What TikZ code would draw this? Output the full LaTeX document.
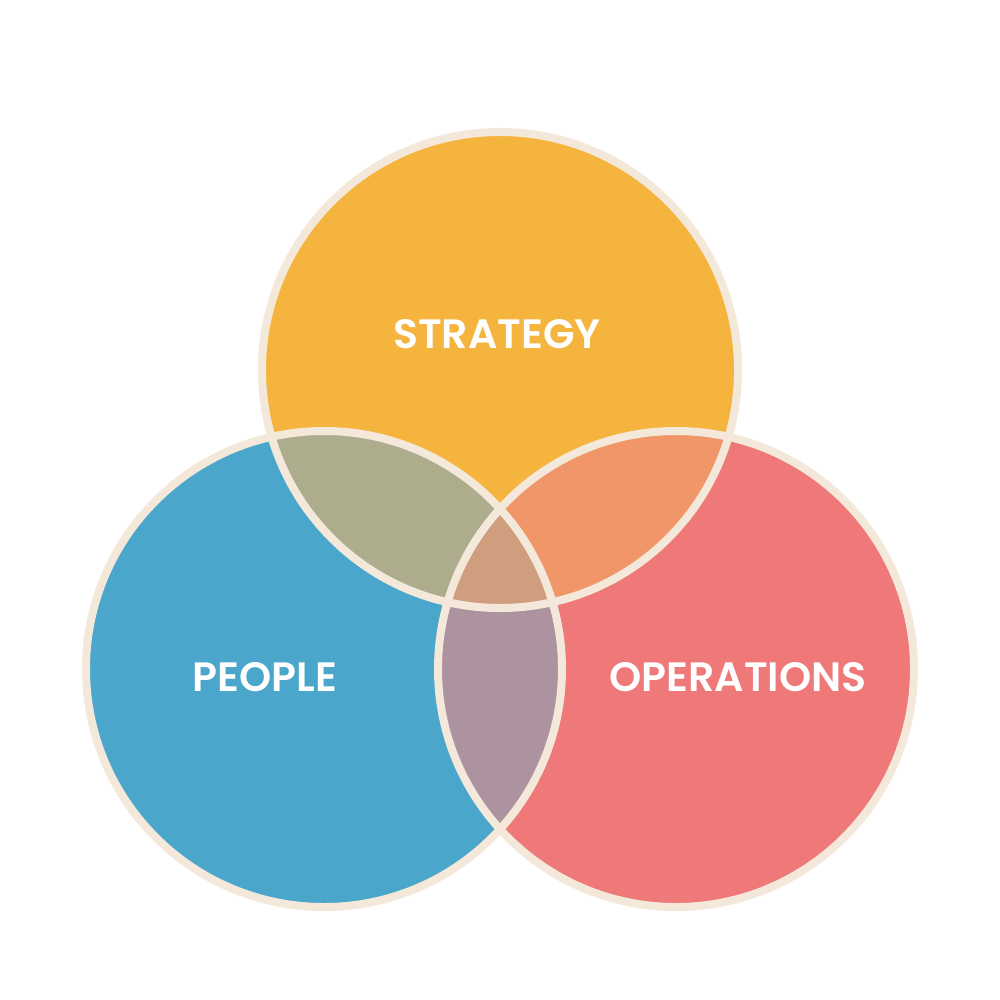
\documentclass[tikz,border=0pt]{standalone}
\usepackage{fontspec}
\setmainfont{Poppins}[BoldFont={Poppins SemiBold}]
\definecolor{ctop}{HTML}{F4B43D}
\definecolor{cleft}{HTML}{4AA6CB}
\definecolor{cright}{HTML}{EF7879}
\definecolor{ctl}{HTML}{ADAD8E}
\definecolor{ctr}{HTML}{F09668}
\definecolor{clr}{HTML}{AD93A0}
\definecolor{cmid}{HTML}{CF9E7E}
\definecolor{rim}{HTML}{F3E8DA}
\begin{document}
\begin{tikzpicture}[x=1pt,y=-1pt,
  lbl/.style={text=white,font=\fontsize{41}{41}\selectfont\bfseries,anchor=center}]
\useasboundingbox[fill=white] (0,0) rectangle (1000,1000);
\def\R{238}
\coordinate (T) at (500,370);
\coordinate (L) at (324,669);
\coordinate (Rr) at (676,669);
\fill[ctop] (T) circle (\R);
\fill[cleft] (L) circle (\R);
\fill[cright] (Rr) circle (\R);
\begin{scope}
  \clip (T) circle (\R);
  \fill[ctl] (L) circle (\R);
  \fill[ctr] (Rr) circle (\R);
\end{scope}
\begin{scope}
  \clip (L) circle (\R);
  \fill[clr] (Rr) circle (\R);
\end{scope}
\begin{scope}
  \clip (T) circle (\R);
  \clip (L) circle (\R);
  \fill[cmid] (Rr) circle (\R);
\end{scope}
\draw[rim,line width=8pt] (T) circle (\R) (L) circle (\R) (Rr) circle (\R);
\node[lbl] (s) at (497,334) {STRATEGY};
\node[lbl] (p) at (265,677) {PEOPLE};
\node[lbl] (o) at (738,677) {OPERATIONS};
\end{tikzpicture}
\end{document}
